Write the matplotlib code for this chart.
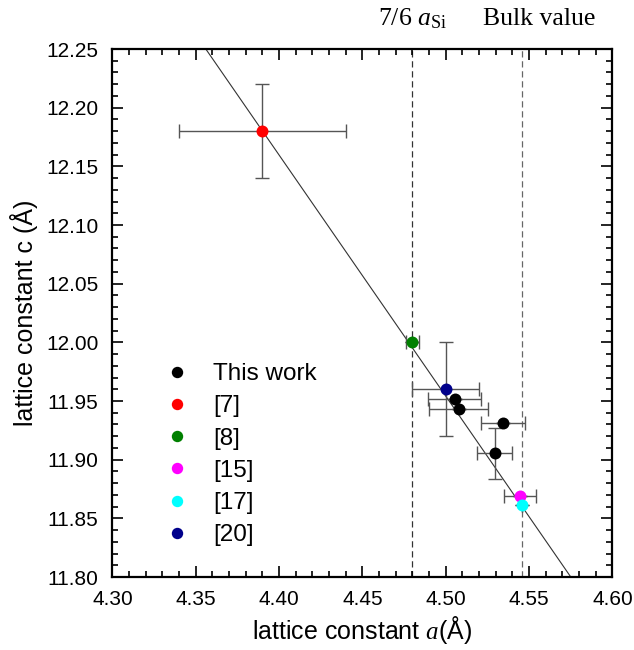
import matplotlib
matplotlib.use("Agg")
import matplotlib.pyplot as plt
from matplotlib.lines import Line2D
from matplotlib.ticker import MultipleLocator
import numpy as np

plt.rcParams['font.family'] = ['Liberation Sans', 'DejaVu Sans']
plt.rcParams['mathtext.fontset'] = 'custom'
plt.rcParams['mathtext.rm'] = 'Liberation Serif'
plt.rcParams['mathtext.it'] = 'Liberation Serif:italic'

# Data
labels = ["This work", "[7]", "[8]", "[15]", "[17]", "[20]"]
colors = ["#000000", "#ff0000", "#008000", "#ff00ff", "#00ffff", "#00008b"]

this_a = [4.5053, 4.5077, 4.5343, 4.5293]
this_c = [11.952, 11.943, 11.9315, 11.9054]
this_aerr = [0.016, 0.0177, 0.013, 0.0103]
this_cerr = [0.0, 0.0, 0.0, 0.022]

ref_a = [4.39, 4.48, 4.5447, 4.5459, 4.50]
ref_c = [12.18, 12.00, 11.8693, 11.8616, 11.96]
ref_aerr = [0.05, 0.004, 0.0097, 0.0, 0.02]
ref_cerr = [0.04, 0.0, 0.0, 0.0, 0.04]

fit_a = [4.356, 4.575]
fit_c = [12.25, 11.80]

line_7_6_aSi = 4.48
line_bulk = 4.546

fig = plt.figure(figsize=(6.34, 6.5), dpi=100)
ax = fig.add_axes([0.1774, 0.1123, 0.966 - 0.1774, 0.9246 - 0.1123])

ax.axvline(line_7_6_aSi, color="#333333", lw=0.9, ls=(0, (5, 3)), zorder=1)
ax.axvline(line_bulk, color="#666666", lw=0.9, ls=(0, (5, 3)), zorder=1)
ax.plot(fit_a, fit_c, color="#333333", lw=0.8, zorder=2)

ekw = dict(fmt='none', ecolor="#555555", elinewidth=1.0, capsize=5, capthick=1.0, zorder=3)
ax.errorbar(this_a, this_c, xerr=this_aerr, yerr=this_cerr, **ekw)
ax.errorbar(ref_a, ref_c, xerr=ref_aerr, yerr=ref_cerr, **ekw)

ms = 8.6
ax.plot(this_a, this_c, 'o', color=colors[0], ms=ms, mec='none', zorder=4)
for i in range(len(ref_a)):
    ax.plot(ref_a[i], ref_c[i], 'o', color=colors[i + 1], ms=ms, mec='none', zorder=4)

ax.set_xlim(4.30, 4.60)
ax.set_ylim(11.80, 12.25)
ax.xaxis.set_major_locator(MultipleLocator(0.05))
ax.xaxis.set_minor_locator(MultipleLocator(0.01))
ax.yaxis.set_major_locator(MultipleLocator(0.05))
ax.yaxis.set_minor_locator(MultipleLocator(0.01))
ax.xaxis.set_major_formatter(matplotlib.ticker.FormatStrFormatter('%.2f'))
ax.yaxis.set_major_formatter(matplotlib.ticker.FormatStrFormatter('%.2f'))
ax.tick_params(which='both', direction='in', top=True, right=True, labelsize=15, color='black')
ax.tick_params(which='major', length=8, width=1.2)
ax.tick_params(axis='x', which='major', pad=9)
ax.tick_params(axis='y', which='major', pad=10)
ax.tick_params(which='minor', length=4.5, width=1.2)
for s in ax.spines.values():
    s.set_linewidth(1.6)

ax.set_xlabel("lattice constant $a$(Å)", fontsize=18, labelpad=4)
ax.set_ylabel("lattice constant c (Å)", fontsize=18, labelpad=6)

ax.text(line_7_6_aSi, 1.045, "7/6 $a_{\\mathrm{Si}}$", transform=ax.get_xaxis_transform(),
        ha='center', va='baseline', fontsize=18.5, family='Liberation Serif')
ax.text(4.5563, 1.045, "Bulk value", transform=ax.get_xaxis_transform(),
        ha='center', va='baseline', fontsize=18.5, family='Liberation Serif')

handles = [Line2D([], [], ls='none', marker='o', color=c, mec='none', ms=8.2) for c in colors]
ax.legend(handles, labels, loc='lower left', bbox_to_anchor=(0.08, 0.035), frameon=False,
          fontsize=17.5, handlelength=1.0, handletextpad=1.0, labelspacing=0.42, borderpad=0)

fig.savefig("out.png", dpi=100)
